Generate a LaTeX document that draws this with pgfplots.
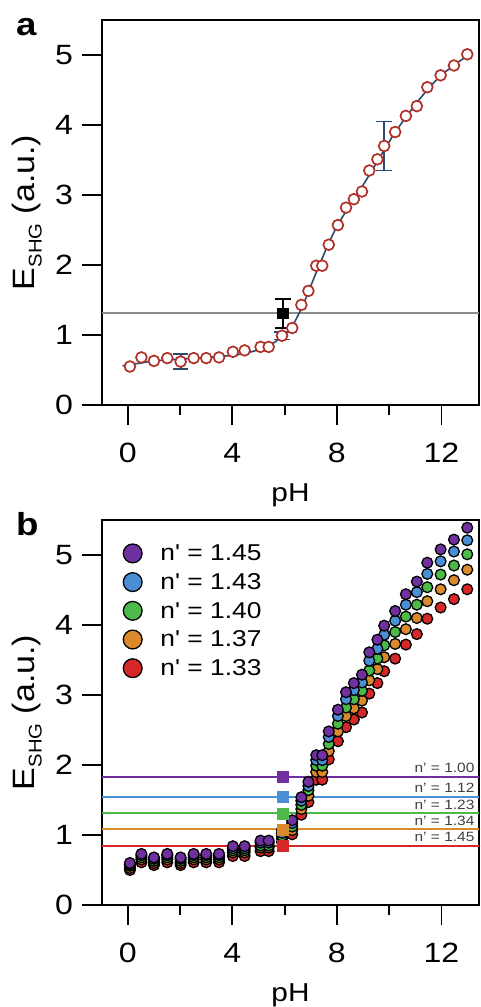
\documentclass[border=0pt]{standalone}
\usepackage{pgfplots}
\pgfplotsset{compat=1.18}
\usepackage{pgfplotstable}
\usepackage{fontspec}
\setmainfont{Liberation Sans}[FakeStretch=1.15, Ligatures=TeXOff]
\newfontfamily\ylabfont{Liberation Sans}[FakeStretch=1.1, Ligatures=TeXOff]

\definecolor{colPur}{HTML}{7030A0}
\definecolor{colBlu}{HTML}{4A8FD6}
\definecolor{colGrn}{HTML}{4CB948}
\definecolor{colOra}{HTML}{DA8A2C}
\definecolor{colRed}{HTML}{D62828}
\definecolor{colDred}{HTML}{B03028}
\definecolor{colFit}{HTML}{2C4A6E}
\definecolor{colGray}{HTML}{8C8C8C}
\definecolor{colTxt}{HTML}{404040}

\pgfplotstableread{
x a
0.08 0.55
0.52 0.68
1.00 0.63
1.51 0.67
2.02 0.62
2.52 0.67
3.00 0.67
3.49 0.68
4.02 0.76
4.47 0.78
5.08 0.83
5.39 0.83
5.90 0.99
6.29 1.10
6.64 1.43
6.91 1.63
7.21 1.99
7.44 1.99
7.69 2.29
8.04 2.57
8.35 2.82
8.65 2.94
8.96 3.05
9.24 3.35
9.55 3.51
9.81 3.70
10.23 3.90
10.64 4.13
11.06 4.27
11.46 4.54
11.97 4.71
12.48 4.85
12.99 5.01
}\dataA

\pgfplotstableread{
x P B G O R
0.08 0.60 0.58 0.56 0.53 0.50
0.52 0.73 0.71 0.68 0.65 0.61
1.00 0.68 0.66 0.63 0.60 0.57
1.51 0.73 0.71 0.68 0.65 0.61
2.02 0.68 0.66 0.63 0.60 0.57
2.52 0.73 0.71 0.68 0.65 0.61
3.00 0.73 0.71 0.68 0.65 0.61
3.49 0.73 0.71 0.68 0.65 0.61
4.02 0.84 0.81 0.78 0.75 0.70
4.47 0.84 0.81 0.78 0.75 0.70
5.08 0.92 0.89 0.85 0.82 0.77
5.39 0.92 0.89 0.85 0.82 0.77
5.90 1.07 1.03 0.99 0.95 0.90
6.29 1.21 1.17 1.12 1.07 1.01
6.64 1.54 1.49 1.43 1.37 1.29
6.91 1.76 1.70 1.64 1.56 1.47
7.21 2.14 2.07 1.99 1.90 1.79
7.44 2.14 2.07 1.99 1.90 1.79
7.69 2.48 2.40 2.30 2.20 2.08
8.04 2.79 2.70 2.59 2.48 2.34
8.35 3.04 2.94 2.82 2.70 2.54
8.65 3.17 3.07 2.94 2.81 2.65
8.96 3.29 3.18 3.06 2.92 2.75
9.24 3.61 3.49 3.35 3.21 3.02
9.55 3.79 3.66 3.52 3.37 3.17
9.81 3.99 3.86 3.71 3.54 3.34
10.23 4.20 4.06 3.90 3.73 3.52
10.64 4.44 4.29 4.12 3.94 3.72
11.06 4.62 4.47 4.29 4.10 3.87
11.46 4.89 4.73 4.54 4.34 4.09
11.97 5.08 4.91 4.72 4.51 4.25
12.48 5.22 5.05 4.85 4.64 4.37
12.99 5.39 5.21 5.01 4.79 4.51
}\dataB

\pgfplotsset{
  myaxis/.style={
    scale only axis, width=377.6bp, height=385bp,
    xmin=-1, xmax=13.45, ymin=0, ymax=5.5,
    xtick={0,4,8,12}, minor xtick={2,6,10},
    ytick={0,1,2,3,4,5},
    axis line style={line width=1.8bp, black},
    tick style={line width=1.8bp, black},
    tick align=outside, xtick pos=bottom, ytick pos=left,
    major tick length=20bp, minor tick length=10bp,
    /pgf/number format/assume math mode=true,
    ticklabel style={font=\fontsize{28}{28}\selectfont, inner sep=0pt},
    xticklabel style={anchor=north},
    yticklabel style={anchor=east},
    xticklabel shift=18bp,
    yticklabel shift=8.5bp,
    xlabel={pH},
    every axis x label/.style={at={(axis description cs:0.5,0)}, anchor=base, yshift=-96.7bp, inner sep=0pt, font=\fontsize{26}{26}\selectfont},
    ylabel={E\raisebox{-6.7bp}{\fontsize{18.5}{18.5}\selectfont SHG} (a.u.)},
    every axis y label/.style={at={(axis description cs:0,0.5)}, xshift=-66.7bp, rotate=90, anchor=base, inner sep=0pt, font=\ylabfont\fontsize{31}{31}\selectfont},
    clip=false,
  }
}

\begin{document}
\begin{tikzpicture}
% ---------------- panel a ----------------
\begin{axis}[myaxis, at={(101.7bp,-405bp)}, anchor=south west]
\addplot[draw=colGray, line width=1.8bp, forget plot] coordinates {(-1,1.31) (13.45,1.31)};
\addplot[draw=colFit, line width=1.6bp, smooth, tension=0.5, forget plot] coordinates {
(-0.2,0.56) (0.5,0.60) (1,0.63) (2,0.655) (3,0.68) (4,0.71) (4.5,0.74) (5,0.79)
(5.5,0.87) (6,1.00) (6.25,1.10) (6.5,1.27) (6.75,1.47) (7,1.70) (7.25,1.93)
(7.5,2.15) (7.75,2.36) (8,2.55) (8.5,2.86) (9,3.14) (9.5,3.45) (10,3.76)
(10.5,4.04) (11,4.29) (11.5,4.52) (12,4.71) (12.5,4.86) (13,4.99)};
\addplot[draw=none, forget plot,
  error bars/.cd, y dir=both, y explicit,
  error bar style={draw=colFit, line width=1.8bp},
  error mark options={draw=colFit, rotate=90, mark size=7.8bp, line width=1.8bp}]
  coordinates {(2.02,0.62) +- (0,0.11) (5.90,0.99) +- (0,0.055) (9.81,3.70) +- (0,0.35)};
\addplot[only marks, mark=*, mark size=5.4bp, line width=1.7bp,
  mark options={draw=colDred, fill=white}, forget plot] table[x=x, y=a] {\dataA};
\addplot[only marks, mark=square*, mark size=5.3bp, black, line width=0.6bp, forget plot,
  error bars/.cd, y dir=both, y explicit,
  error bar style={draw=black, line width=1.8bp},
  error mark options={draw=black, rotate=90, mark size=8bp, line width=1.8bp}]
  coordinates {(5.93,1.31) +- (0,0.21)};
\end{axis}
% ---------------- panel b ----------------
\begin{axis}[myaxis, at={(101.7bp,-905bp)}, anchor=south west,
  reverse legend, legend cell align=left,
  legend image code/.code={\draw[#1, mark size=9.4bp] plot coordinates {(9.4bp,0bp)};},
  legend style={draw=none, fill=none, inner sep=0pt, outer sep=0pt,
    at={(axis description cs:0,1)}, anchor=north west, xshift=21.6bp, yshift=-24bp,
    row sep=9.9bp, font=\fontsize{23}{23}\selectfont, nodes={inner sep=0pt},
    /tikz/every odd column/.append style={column sep=18.4bp}}]
\addplot[draw=colPur, line width=2bp, forget plot] coordinates {(-1,1.83) (13.45,1.83)};
\addplot[draw=colBlu, line width=2bp, forget plot] coordinates {(-1,1.55) (13.45,1.55)};
\addplot[draw=colGrn, line width=2bp, forget plot] coordinates {(-1,1.31) (13.45,1.31)};
\addplot[draw=colOra, line width=2bp, forget plot] coordinates {(-1,1.08) (13.45,1.08)};
\addplot[draw=colRed, line width=2bp, forget plot] coordinates {(-1,0.85) (13.45,0.85)};
\addplot[only marks, mark=*, mark size=5.4bp, line width=1.3bp, mark options={draw=black, fill=colRed}] table[x=x, y=R] {\dataB};
\addlegendentry{n' = 1.33}
\addplot[only marks, mark=*, mark size=5.4bp, line width=1.3bp, mark options={draw=black, fill=colOra}] table[x=x, y=O] {\dataB};
\addlegendentry{n' = 1.37}
\addplot[only marks, mark=*, mark size=5.4bp, line width=1.3bp, mark options={draw=black, fill=colGrn}] table[x=x, y=G] {\dataB};
\addlegendentry{n' = 1.40}
\addplot[only marks, mark=*, mark size=5.4bp, line width=1.3bp, mark options={draw=black, fill=colBlu}] table[x=x, y=B] {\dataB};
\addlegendentry{n' = 1.43}
\addplot[only marks, mark=*, mark size=5.4bp, line width=1.3bp, mark options={draw=black, fill=colPur}] table[x=x, y=P] {\dataB};
\addlegendentry{n' = 1.45}
\addplot[only marks, mark=square*, mark size=5.6bp, mark options={draw=colPur, fill=colPur}, forget plot] coordinates {(5.93,1.83)};
\addplot[only marks, mark=square*, mark size=5.6bp, mark options={draw=colBlu, fill=colBlu}, forget plot] coordinates {(5.93,1.55)};
\addplot[only marks, mark=square*, mark size=5.6bp, mark options={draw=colGrn, fill=colGrn}, forget plot] coordinates {(5.93,1.31)};
\addplot[only marks, mark=square*, mark size=5.6bp, mark options={draw=colOra, fill=colOra}, forget plot] coordinates {(5.93,1.08)};
\addplot[only marks, mark=square*, mark size=5.6bp, mark options={draw=colRed, fill=colRed}, forget plot] coordinates {(5.93,0.85)};
\begin{scope}[every node/.style={anchor=base east, inner sep=0pt, text=colTxt, font=\fontsize{13.5}{13.5}\selectfont, yshift=4.2bp}]
\node at (axis cs:13.27,1.83) {n’ = 1.00};
\node at (axis cs:13.27,1.55) {n’ = 1.12};
\node at (axis cs:13.27,1.31) {n’ = 1.23};
\node at (axis cs:13.27,1.08) {n’ = 1.34};
\node at (axis cs:13.27,0.85) {n’ = 1.45};
\end{scope}
\end{axis}
\node[anchor=base west, inner sep=0pt, font=\bfseries\fontsize{32}{32}\selectfont] at (16bp,-35bp) {a};
\node[anchor=base west, inner sep=0pt, font=\bfseries\fontsize{32}{32}\selectfont] at (16bp,-535bp) {b};
\pgfresetboundingbox
\path[use as bounding box] (0bp,0bp) rectangle (481bp,-1007bp);
\end{tikzpicture}
\end{document}
